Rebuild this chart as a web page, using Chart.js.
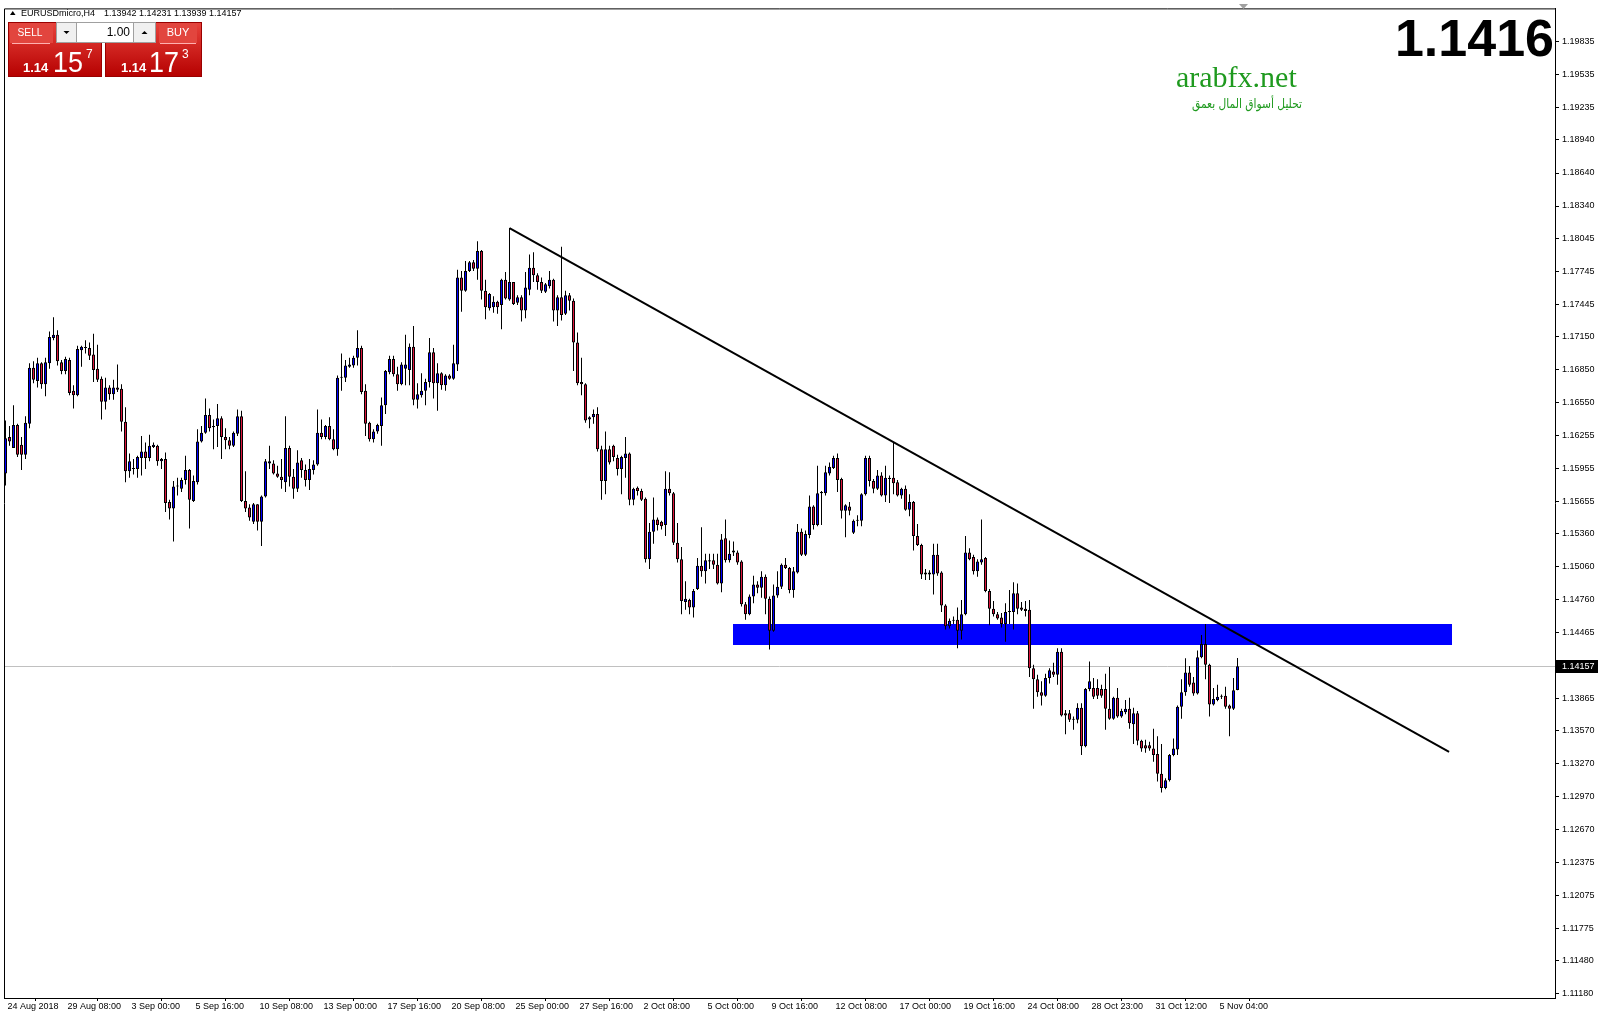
<!DOCTYPE html>
<html lang="en">
<head>
<meta charset="UTF-8" />
<title>EURUSDmicro,H4</title>
<script src="https://cdn.jsdelivr.net/npm/chart.js"></script>
<style>
  body { margin: 0; background: #fff; }
  canvas { display: block; }
</style>
</head>
<body>
<canvas id="chart" width="1600" height="1020"></canvas>
<script>
const symbol = 'EURUSDmicro';
const timeframe = 'H4';
const bid = 1.14157;
const ask = 1.14173;
const lotSize = '1.00';

// H4 candles, oldest first
const opens = [
  1.1591,1.1624,1.1614,1.1635,1.1617,1.1608,1.1636,1.1687,1.1675,1.1691,
  1.1672,1.1691,1.1714,1.1717,1.1692,1.1684,1.1694,1.1666,1.1662,1.1703,
  1.1705,1.1705,1.1699,1.1686,1.1677,1.1656,1.1669,1.1663,1.1669,1.1668,
  1.1638,1.1593,1.1596,1.1595,1.1605,1.1611,1.1605,1.1615,1.1616,1.1602,
  1.1604,1.1565,1.1559,1.1579,1.1577,1.1585,1.1594,1.1566,1.1583,1.1620,
  1.1628,1.1644,1.1634,1.1634,1.1641,1.1624,1.1621,1.1616,1.1627,1.1643,
  1.1566,1.1560,1.1547,1.1563,1.1547,1.1570,1.1600,1.1600,1.1591,1.1588,
  1.1583,1.1614,1.1588,1.1577,1.1603,1.1594,1.1585,1.1594,1.1599,1.1628,
  1.1624,1.1634,1.1622,1.1613,1.1678,1.1678,1.1688,1.1689,1.1696,1.1705,
  1.1666,1.1637,1.1622,1.1629,1.1634,1.1653,1.1683,1.1695,1.1681,1.1672,
  1.1686,1.1685,1.1706,1.1658,1.1662,1.1666,1.1674,1.1701,1.1673,1.1682,
  1.1671,1.1680,1.1677,1.1690,1.1769,1.1757,1.1775,1.1783,1.1777,1.1793,
  1.1757,1.1741,1.1742,1.1747,1.1744,1.1767,1.1749,1.1765,1.1746,1.1751,
  1.1739,1.1758,1.1778,1.1771,1.1765,1.1756,1.1761,1.1767,1.1739,1.1751,
  1.1736,1.1753,1.1748,1.1710,1.1674,1.1672,1.1640,1.1642,1.1645,1.1613,
  1.1584,1.1613,1.1616,1.1605,1.1595,1.1605,1.1609,1.1567,1.1578,1.1575,
  1.1568,1.1513,1.1538,1.1549,1.1547,1.1544,1.1577,1.1573,1.1528,1.1513,
  1.1474,1.1476,1.1469,1.1486,1.1507,1.1502,1.1511,1.1512,1.1508,1.1491,
  1.1532,1.1512,1.1519,1.1519,1.1511,1.1472,1.1463,1.1479,1.1490,1.1487,
  1.1497,1.1477,1.1448,1.1480,1.1488,1.1508,1.1505,1.1485,1.1501,1.1538,
  1.1517,1.1535,1.1561,1.1544,1.1573,1.1573,1.1591,1.1596,1.1605,1.1586,
  1.1557,1.1561,1.1537,1.1548,1.1548,1.1572,1.1605,1.1584,1.1577,1.1589,
  1.1571,1.1586,1.1587,1.1583,1.1571,1.1577,1.1558,1.1565,1.1534,1.1526,
  1.1499,1.1501,1.1499,1.1517,1.1501,1.1471,1.1452,1.1457,1.1458,1.1448,
  1.1463,1.1519,1.1515,1.1502,1.1510,1.1514,1.1484,1.1468,1.1463,1.1460,
  1.1454,1.1465,1.1465,1.1482,1.1469,1.1468,1.1467,1.1414,1.1404,1.1392,
  1.1389,1.1405,1.1411,1.1408,1.1429,1.1373,1.1373,1.1368,1.1367,1.1378,
  1.1343,1.1395,1.1396,1.1396,1.1395,1.1395,1.1377,1.1368,1.1387,1.1370,
  1.1374,1.1377,1.1363,1.1373,1.1348,1.1344,1.1344,1.1341,1.1336,1.1318,
  1.1305,1.1312,1.1335,1.1340,1.1379,1.1392,1.1410,1.1401,1.1391,1.1424,
  1.1436,1.1417,1.1381,1.1385,1.1389,1.1389,1.1380,1.1377,1.13942
];
const highs = [
  1.1639,1.1634,1.1653,1.1636,1.1624,1.1643,1.1691,1.1693,1.1696,1.1692,
  1.1696,1.1720,1.1733,1.1721,1.1694,1.1697,1.1696,1.1671,1.1707,1.1707,
  1.1712,1.1710,1.1718,1.1708,1.1679,1.1678,1.1671,1.1676,1.1690,1.1672,
  1.1651,1.1609,1.1604,1.1607,1.1625,1.1619,1.1626,1.1619,1.1617,1.1605,
  1.1610,1.1567,1.1584,1.1587,1.1587,1.1607,1.1595,1.1589,1.1631,1.1634,
  1.1659,1.1650,1.1640,1.1654,1.1643,1.1632,1.1624,1.1629,1.1649,1.1648,
  1.1593,1.1563,1.1564,1.1563,1.1571,1.1604,1.1616,1.1603,1.1598,1.1604,
  1.1643,1.1616,1.1595,1.1612,1.1605,1.1599,1.1604,1.1603,1.1649,1.1640,
  1.1635,1.1642,1.1631,1.1680,1.1700,1.1694,1.1696,1.1698,1.1721,1.1707,
  1.1672,1.1638,1.1631,1.1636,1.1660,1.1685,1.1698,1.1698,1.1688,1.1692,
  1.1717,1.1709,1.1725,1.1673,1.1682,1.1677,1.1714,1.1705,1.1691,1.1683,
  1.1681,1.1681,1.1708,1.1776,1.1775,1.1784,1.1784,1.1785,1.1802,1.1794,
  1.1767,1.1755,1.1752,1.1748,1.1768,1.1774,1.1814,1.1765,1.1753,1.1753,
  1.1774,1.1790,1.1792,1.1773,1.1769,1.1764,1.1775,1.1768,1.1753,1.1797,
  1.1757,1.1755,1.1750,1.1719,1.1696,1.1673,1.1643,1.1649,1.1651,1.1616,
  1.1629,1.1616,1.1617,1.1608,1.1607,1.1624,1.1610,1.1578,1.1579,1.1577,
  1.1569,1.1546,1.1569,1.1551,1.1548,1.1593,1.1592,1.1574,1.1546,1.1524,
  1.1493,1.1477,1.1486,1.1514,1.1542,1.1518,1.1518,1.1518,1.1518,1.1536,
  1.1549,1.1530,1.1529,1.1521,1.1512,1.1474,1.1481,1.1498,1.1493,1.1502,
  1.1499,1.1479,1.1490,1.1502,1.1509,1.1514,1.1506,1.1506,1.1545,1.1541,
  1.1539,1.1571,1.1562,1.1598,1.1575,1.1598,1.1601,1.1607,1.1609,1.1587,
  1.1563,1.1565,1.1549,1.1553,1.1573,1.1607,1.1607,1.1586,1.1594,1.1592,
  1.1598,1.1589,1.1619,1.1585,1.1578,1.1580,1.1572,1.1566,1.1545,1.1527,
  1.1504,1.1503,1.1527,1.1527,1.1502,1.1472,1.1459,1.1461,1.1469,1.1476,
  1.1534,1.1523,1.1517,1.1513,1.1549,1.1515,1.1486,1.1475,1.1465,1.1464,
  1.1473,1.1485,1.1492,1.1491,1.1474,1.1475,1.1476,1.1417,1.1408,1.1402,
  1.1409,1.1414,1.1419,1.1432,1.1432,1.1376,1.1376,1.1370,1.1382,1.1382,
  1.1396,1.1420,1.1405,1.1404,1.1399,1.1409,1.1415,1.1388,1.1396,1.1377,
  1.1385,1.1387,1.1378,1.1375,1.1349,1.1349,1.1347,1.1359,1.1352,1.1345,
  1.1314,1.1336,1.1350,1.1380,1.1404,1.1423,1.1416,1.1406,1.1430,1.1444,
  1.1454,1.1418,1.1396,1.1399,1.1390,1.1397,1.1381,1.1405,1.14231
];
const lows = [
  1.1580,1.1616,1.1614,1.1606,1.1594,1.1604,1.1632,1.1673,1.1669,1.1668,
  1.1661,1.1686,1.1712,1.1689,1.1681,1.1681,1.1662,1.1650,1.1661,1.1688,
  1.1700,1.1694,1.1674,1.1674,1.1640,1.1649,1.1658,1.1658,1.1665,1.1629,
  1.1583,1.1587,1.1590,1.1587,1.1589,1.1595,1.1602,1.1614,1.1598,1.1595,
  1.1556,1.1549,1.1529,1.1571,1.1574,1.1581,1.1541,1.1565,1.1581,1.1619,
  1.1627,1.1629,1.1613,1.1615,1.1604,1.1613,1.1613,1.1615,1.1625,1.1565,
  1.1556,1.1548,1.1545,1.1539,1.1525,1.1569,1.1595,1.1590,1.1587,1.1577,
  1.1574,1.1579,1.1568,1.1574,1.1587,1.1579,1.1576,1.1590,1.1598,1.1622,
  1.1622,1.1621,1.1612,1.1607,1.1666,1.1674,1.1687,1.1687,1.1689,1.1663,
  1.1625,1.1620,1.1619,1.1627,1.1616,1.1645,1.1681,1.1679,1.1666,1.1671,
  1.1671,1.1671,1.1653,1.1650,1.1660,1.1653,1.1669,1.1659,1.1648,1.1667,
  1.1666,1.1676,1.1676,1.1684,1.1738,1.1756,1.1774,1.1775,1.1767,1.1749,
  1.1731,1.1739,1.1737,1.1736,1.1722,1.1749,1.1748,1.1744,1.1744,1.1729,
  1.1732,1.1753,1.1765,1.1758,1.1755,1.1755,1.1759,1.1729,1.1725,1.1730,
  1.1735,1.1739,1.1684,1.1671,1.1662,1.1637,1.1632,1.1636,1.1611,1.1567,
  1.1572,1.1599,1.1602,1.1589,1.1572,1.1587,1.1562,1.1562,1.1571,1.1566,
  1.1510,1.1504,1.1527,1.1539,1.1540,1.1534,1.1571,1.1526,1.1510,1.1463,
  1.1467,1.1463,1.1460,1.1485,1.1497,1.1491,1.1504,1.1504,1.1490,1.1483,
  1.1510,1.1510,1.1516,1.1508,1.1470,1.1458,1.1462,1.1473,1.1482,1.1478,
  1.1463,1.1431,1.1447,1.1478,1.1486,1.1504,1.1482,1.1478,1.1500,1.1516,
  1.1516,1.1532,1.1540,1.1543,1.1544,1.1571,1.1589,1.1595,1.1574,1.1550,
  1.1533,1.1553,1.1536,1.1543,1.1543,1.1571,1.1579,1.1573,1.1576,1.1570,
  1.1565,1.1564,1.1572,1.1570,1.1568,1.1557,1.1552,1.1521,1.1525,1.1495,
  1.1494,1.1494,1.1481,1.1498,1.1465,1.1449,1.1450,1.1454,1.1432,1.1440,
  1.1462,1.1512,1.1499,1.1497,1.1508,1.1483,1.1453,1.1461,1.1458,1.1451,
  1.1438,1.1454,1.1449,1.1463,1.1466,1.1461,1.1406,1.1377,1.1388,1.1380,
  1.1388,1.1400,1.1406,1.1399,1.1370,1.1354,1.1365,1.1358,1.1364,1.1335,
  1.1342,1.1393,1.1386,1.1386,1.1387,1.1358,1.1367,1.1367,1.1369,1.1369,
  1.1372,1.1359,1.1345,1.1344,1.1338,1.1337,1.1339,1.1329,1.1311,1.1301,
  1.1304,1.1311,1.1334,1.1335,1.1368,1.1389,1.1397,1.1389,1.1390,1.1423,
  1.1404,1.1370,1.1380,1.1384,1.1386,1.1377,1.1352,1.1376,1.13939
];
const closes = [
  1.1623,1.1620,1.1635,1.1608,1.1608,1.1637,1.1687,1.1676,1.1691,1.1672,
  1.1692,1.1715,1.1717,1.1693,1.1684,1.1695,1.1664,1.1662,1.1704,1.1706,
  1.1705,1.1698,1.1685,1.1676,1.1656,1.1669,1.1663,1.1669,1.1667,1.1638,
  1.1593,1.1602,1.1595,1.1606,1.1611,1.1605,1.1616,1.1617,1.1602,1.1604,
  1.1564,1.1559,1.1579,1.1579,1.1585,1.1594,1.1567,1.1584,1.1620,1.1628,
  1.1644,1.1632,1.1633,1.1641,1.1624,1.1621,1.1616,1.1628,1.1643,1.1566,
  1.1559,1.1551,1.1563,1.1547,1.1570,1.1602,1.1602,1.1591,1.1588,1.1585,
  1.1614,1.1588,1.1577,1.1601,1.1594,1.1585,1.1595,1.1599,1.1628,1.1624,
  1.1634,1.1622,1.1613,1.1678,1.1678,1.1689,1.1690,1.1696,1.1705,1.1665,
  1.1636,1.1622,1.1629,1.1635,1.1653,1.1684,1.1695,1.1681,1.1672,1.1690,
  1.1690,1.1706,1.1658,1.1663,1.1666,1.1674,1.1701,1.1673,1.1682,1.1671,
  1.1680,1.1677,1.1691,1.1769,1.1757,1.1775,1.1783,1.1777,1.1793,1.1757,
  1.1742,1.1754,1.1747,1.1742,1.1767,1.1750,1.1765,1.1745,1.1751,1.1739,
  1.1760,1.1778,1.1771,1.1765,1.1757,1.1763,1.1767,1.1739,1.1751,1.1735,
  1.1753,1.1748,1.1710,1.1673,1.1672,1.1639,1.1642,1.1645,1.1613,1.1584,
  1.1613,1.1601,1.1606,1.1595,1.1606,1.1609,1.1567,1.1577,1.1575,1.1567,
  1.1513,1.1538,1.1549,1.1544,1.1543,1.1577,1.1573,1.1528,1.1513,1.1475,
  1.1477,1.1469,1.1484,1.1507,1.1502,1.1512,1.1512,1.1508,1.1491,1.1531,
  1.1512,1.1518,1.1521,1.1510,1.1472,1.1463,1.1479,1.1490,1.1487,1.1497,
  1.1477,1.1448,1.1480,1.1488,1.1508,1.1505,1.1485,1.1502,1.1538,1.1517,
  1.1536,1.1561,1.1544,1.1573,1.1574,1.1592,1.1597,1.1605,1.1585,1.1557,
  1.1562,1.1557,1.1548,1.1548,1.1572,1.1605,1.1584,1.1577,1.1589,1.1571,
  1.1587,1.1587,1.1582,1.1571,1.1577,1.1558,1.1565,1.1534,1.1526,1.1499,
  1.1501,1.1499,1.1517,1.1500,1.1471,1.1452,1.1457,1.1457,1.1448,1.1463,
  1.1519,1.1513,1.1502,1.1511,1.1513,1.1484,1.1468,1.1463,1.1459,1.1454,
  1.1465,1.1465,1.1482,1.1468,1.1467,1.1466,1.1414,1.1404,1.1392,1.1389,
  1.1405,1.1412,1.1408,1.1429,1.1371,1.1371,1.1367,1.1367,1.1378,1.1343,
  1.1395,1.1402,1.1388,1.1389,1.1389,1.1377,1.1368,1.1387,1.1370,1.1375,
  1.1377,1.1364,1.1373,1.1348,1.1341,1.1341,1.1341,1.1335,1.1318,1.1305,
  1.1312,1.1335,1.1341,1.1379,1.1392,1.1410,1.1399,1.1391,1.1424,1.1436,
  1.1417,1.1381,1.1386,1.1388,1.1388,1.1379,1.1377,1.1394,1.14157
];

// time axis labels (bar index -> text)
const dateTickIdx = [0, 15, 31, 47, 63, 79, 95, 111, 127, 143, 159, 175, 191, 207, 223, 239, 255, 271, 287, 303];
const dateLabels = ['24 Aug 2018', '29 Aug 08:00', '3 Sep 00:00', '5 Sep 16:00', '10 Sep 08:00', '13 Sep 00:00',
  '17 Sep 16:00', '20 Sep 08:00', '25 Sep 00:00', '27 Sep 16:00', '2 Oct 08:00', '5 Oct 00:00', '9 Oct 16:00',
  '12 Oct 08:00', '17 Oct 00:00', '19 Oct 16:00', '24 Oct 08:00', '28 Oct 23:00', '31 Oct 12:00', '5 Nov 04:00'];

const priceTicks = [1.19835, 1.19535, 1.19235, 1.18940, 1.18640, 1.18340, 1.18045, 1.17745, 1.17445, 1.17150,
  1.16850, 1.16550, 1.16255, 1.15955, 1.15655, 1.15360, 1.15060, 1.14760, 1.14465, 1.13865, 1.13570,
  1.13270, 1.12970, 1.12670, 1.12375, 1.12075, 1.11775, 1.11480, 1.11180];

// drawn objects (bar index / price)
const trendX = [126, 360.9];
const trendY = [1.1814, 1.1338];
const zoneX = [181.9, 361.6];
const zoneY = [1.14538, 1.14350];

const bull = '#0000ff', bear = '#dc143c';
const FONT = '"Liberation Sans", Arial, sans-serif';
Chart.defaults.font.family = FONT;

const idx = closes.map((_, i) => i);
const bodyColors = idx.map(i => closes[i] >= opens[i] ? bull : bear);

function splitQuote(v) {
  const s = v.toFixed(5);
  return [s.slice(0, 4), s.slice(4, 6), s.slice(6)];
}

const overlay = {
  id: 'overlay',
  beforeDraw(c) {
    const ctx = c.ctx;
    ctx.save();
    ctx.fillStyle = '#fff';
    ctx.fillRect(0, 0, c.width, c.height);
    ctx.restore();
  },
  beforeDatasetsDraw(c) {
    const { ctx, chartArea: a, scales: { x, y } } = c;
    ctx.save();
    const x0 = Math.round(x.getPixelForValue(zoneX[0])), x1 = Math.round(x.getPixelForValue(zoneX[1]));
    const y0 = Math.round(y.getPixelForValue(zoneY[0])), y1 = Math.round(y.getPixelForValue(zoneY[1]));
    ctx.fillStyle = '#0000ff';
    ctx.fillRect(x0, y0, x1 - x0, y1 - y0);
    const py = Math.round(y.getPixelForValue(bid)) + 0.5;
    ctx.strokeStyle = '#c0c0c0';
    ctx.lineWidth = 1;
    ctx.beginPath(); ctx.moveTo(a.left, py); ctx.lineTo(a.right, py); ctx.stroke();
    ctx.restore();
  },
  afterDraw(c) {
    const { ctx, chartArea: a, scales: { y } } = c;
    ctx.save();
    // frame
    ctx.strokeStyle = '#000';
    ctx.lineWidth = 1;
    ctx.beginPath();
    ctx.moveTo(a.left + 0.5, a.bottom);
    ctx.lineTo(a.left + 0.5, a.top + 0.5);
    ctx.lineTo(a.right, a.top + 0.5);
    ctx.stroke();

    // current price tag
    const py = Math.round(y.getPixelForValue(bid));
    ctx.fillStyle = '#000';
    ctx.fillRect(a.right + 1, py - 6, 42, 13);
    ctx.fillStyle = '#fff';
    ctx.font = '9px ' + FONT;
    ctx.textBaseline = 'middle';
    ctx.textAlign = 'left';
    ctx.fillText(bid.toFixed(5), a.right + 7, py + 0.5);

    // shift marker
    ctx.fillStyle = '#a0a0a0';
    ctx.beginPath(); ctx.moveTo(1239, 4); ctx.lineTo(1248, 4); ctx.lineTo(1243.5, 9); ctx.closePath(); ctx.fill();

    // header line
    const last = closes.length - 1;
    ctx.fillStyle = '#000';
    ctx.beginPath(); ctx.moveTo(10, 15); ctx.lineTo(15.5, 15); ctx.lineTo(12.75, 11); ctx.closePath(); ctx.fill();
    ctx.textBaseline = 'alphabetic';
    ctx.font = '9px ' + FONT;
    ctx.fillText(symbol + ',' + timeframe, 21, 16);
    [opens[last], highs[last], lows[last], closes[last]].forEach((v, i) => ctx.fillText(v.toFixed(5), 104 + 35 * i, 16));

    // one-click trading panel
    const redBox = (x, yy, w, h) => {
      const g = ctx.createLinearGradient(0, yy, 0, yy + h);
      g.addColorStop(0, '#e8433c');
      g.addColorStop(1, '#b50000');
      ctx.fillStyle = g;
      ctx.fillRect(x, yy, w, h);
      ctx.strokeStyle = '#9a0000';
      ctx.strokeRect(x + 0.5, yy + 0.5, w - 1, h - 1);
    };
    redBox(8, 22, 94, 55);
    redBox(105, 22, 97, 55);
    ctx.fillStyle = '#e2453e';
    ctx.fillRect(10, 23, 43, 20);
    ctx.fillRect(159, 23, 38, 20);
    ctx.strokeStyle = '#ffb0b0';
    ctx.beginPath(); ctx.moveTo(12, 43.5); ctx.lineTo(50, 43.5); ctx.moveTo(160, 43.5); ctx.lineTo(196, 43.5); ctx.stroke();
    ctx.fillStyle = '#fff';
    ctx.font = '11px ' + FONT;
    ctx.textAlign = 'center';
    ctx.textBaseline = 'middle';
    ctx.fillText('SELL', 30, 33, 25);
    ctx.fillText('BUY', 178, 33, 23);

    // lot spinner
    ctx.fillStyle = '#fff';
    ctx.fillRect(56, 22, 100, 21);
    ctx.fillStyle = '#f0f0f0';
    ctx.fillRect(57, 23, 19, 19);
    ctx.fillRect(134, 23, 21, 19);
    ctx.strokeStyle = '#a0a0a0';
    ctx.strokeRect(56.5, 22.5, 99, 20);
    ctx.beginPath(); ctx.moveTo(76.5, 23); ctx.lineTo(76.5, 42); ctx.moveTo(133.5, 23); ctx.lineTo(133.5, 42); ctx.stroke();
    ctx.fillStyle = '#000';
    ctx.beginPath(); ctx.moveTo(63.5, 31); ctx.lineTo(69.5, 31); ctx.lineTo(66.5, 34); ctx.closePath(); ctx.fill();
    ctx.beginPath(); ctx.moveTo(141.5, 34); ctx.lineTo(147.5, 34); ctx.lineTo(144.5, 31); ctx.closePath(); ctx.fill();
    ctx.font = '12px ' + FONT;
    ctx.textAlign = 'right';
    ctx.fillText(lotSize, 130, 33);

    // bid / ask
    const drawQuote = (v, x0, x1, x2) => {
      const [p1, p2, p3] = splitQuote(v);
      ctx.fillStyle = '#fff';
      ctx.textAlign = 'left';
      ctx.textBaseline = 'alphabetic';
      ctx.font = 'bold 13px ' + FONT;
      ctx.fillText(p1, x0, 72);
      ctx.font = '29px ' + FONT;
      ctx.fillText(p2, x1, 72, 30);
      ctx.font = '12px ' + FONT;
      ctx.fillText(p3, x2, 58);
    };
    drawQuote(bid, 23, 53, 86);
    drawQuote(ask, 121, 149, 182);

    // watermark
    ctx.fillStyle = '#1f9a1f';
    ctx.textAlign = 'left';
    ctx.textBaseline = 'alphabetic';
    ctx.font = '30px "Liberation Serif", serif';
    ctx.fillText('arabfx.net', 1176, 87);
    ctx.font = '13px "DejaVu Sans", sans-serif';
    ctx.textAlign = 'right';
    ctx.fillText('تحليل أسواق المال بعمق', 1302, 108, 110);

    // big price
    ctx.fillStyle = '#000';
    ctx.font = 'bold 52px ' + FONT;
    ctx.textAlign = 'right';
    ctx.fillText(bid.toFixed(4), 1554, 56);
    ctx.restore();
  }
};

new Chart(document.getElementById('chart'), {
  type: 'bar',
  data: {
    datasets: [
      {
        type: 'line',
        data: trendX.map((v, i) => ({ x: v, y: trendY[i] })),
        borderColor: '#000',
        borderWidth: 2,
        pointRadius: 0,
        tension: 0,
        order: 0
      },
      {
        data: idx.map(i => ({ x: i, y: [opens[i], closes[i]] })),
        backgroundColor: bodyColors,
        borderColor: '#000',
        borderWidth: 1,
        borderSkipped: false,
        barThickness: 3,
        minBarLength: 1,
        inflateAmount: 0,
        grouped: false,
        order: 1
      },
      {
        data: idx.map(i => ({ x: i, y: [lows[i], highs[i]] })),
        backgroundColor: '#000',
        borderWidth: 0,
        barThickness: 1,
        inflateAmount: 0,
        grouped: false,
        order: 2
      }
    ]
  },
  options: {
    responsive: false,
    animation: false,
    devicePixelRatio: 1,
    layout: { padding: { left: 4, top: 4, right: 0, bottom: 0 } },
    plugins: { legend: { display: false }, tooltip: { enabled: false } },
    events: [],
    scales: {
      x: {
        type: 'linear',
        position: 'bottom',
        min: -0.375,
        max: 387.375,
        offset: false,
        bounds: 'data',
        grid: { display: true, drawOnChartArea: false, drawTicks: true, tickLength: 3, color: '#000' },
        border: { display: true, color: '#000' },
        ticks: {
          autoSkip: false, maxRotation: 0, minRotation: 0, align: 'start', padding: 0, labelOffset: 2,
          color: '#000', font: { size: 9 },
          callback: v => dateLabels[dateTickIdx.indexOf(v)]
        },
        afterBuildTicks: s => { s.ticks = dateTickIdx.map(v => ({ value: v })); },
        afterFit: s => { s.height = 22; }
      },
      y: {
        type: 'linear',
        position: 'right',
        min: 1.11142,
        max: 1.20136,
        beginAtZero: false,
        bounds: 'data',
        grid: { display: true, drawOnChartArea: false, drawTicks: true, tickLength: 4, color: '#000' },
        border: { display: true, color: '#000' },
        ticks: {
          autoSkip: false, padding: 3, color: '#000', font: { size: 9 },
          callback: v => v.toFixed(5)
        },
        afterBuildTicks: s => { s.ticks = priceTicks.map(v => ({ value: v })); },
        afterFit: s => { s.width = 45; }
      }
    }
  },
  plugins: [overlay]
});
</script>
</body>
</html>
